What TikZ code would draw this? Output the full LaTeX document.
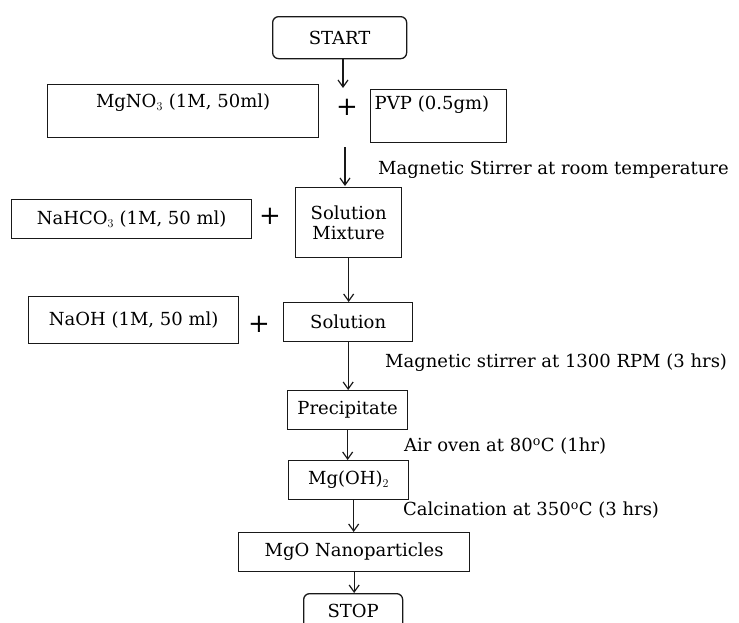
\documentclass[tikz,border=0pt]{standalone}
\usepackage{fontspec}
\setmainfont{DejaVu Serif}
\usetikzlibrary{arrows.meta}
\tikzset{
  txt/.style={font=\fontsize{18}{20}\selectfont, text=black},
  box/.style={draw=black!90, line width=1.3pt, rectangle, inner sep=0pt, anchor=north west, txt},
  rbox/.style={box, rounded corners=6pt},
  flow/.style={draw=black!90, line width=1.2pt, -{Straight Barb[length=7pt,width=10pt,line width=1.2pt]}},
  plus/.style={font=\fontsize{26}{26}\selectfont, text=black, inner sep=0pt},
  lbl/.style={txt, anchor=west, inner sep=0pt},
}
\begin{document}
\begin{tikzpicture}[x=1pt,y=-1pt]
\useasboundingbox (0,0) rectangle (739,622);
% boxes
\node[rbox, minimum width=134pt, minimum height=42pt] (start) at (272,16) {START};
\node[box, minimum width=271pt, text width=271pt, align=center, text height=23pt, text depth=30pt] (mgno) at (47,84) {MgNO$_3$ (1M, 50ml)};
\node[box, minimum width=136pt, text width=132pt, align=left, text height=20pt, text depth=33pt] (pvp) at (370,89) {\hspace*{2pt}PVP (0.5gm)};
\node[box, minimum width=240pt, minimum height=39pt] (nahco) at (11,199) {NaHCO$_3$ (1M, 50 ml)};
\node[box, minimum width=106pt, minimum height=70pt, align=center] (solmix) at (295,187) {Solution\\Mixture};
\node[box, minimum width=210pt, minimum height=47pt] (naoh) at (28,296) {NaOH (1M, 50 ml)};
\node[box, minimum width=129pt, minimum height=39pt] (sol) at (283,302) {Solution};
\node[box, minimum width=120pt, minimum height=39pt] (prec) at (287,390) {Precipitate};
\node[box, minimum width=120pt, minimum height=39pt] (mgoh) at (288,460) {Mg(OH)$_2$};
\node[box, minimum width=231pt, minimum height=39pt] (mgo) at (238,532) {MgO Nanoparticles};
\node[rbox, minimum width=99pt, text height=24pt, text depth=20pt] (stop) at (303,593) {STOP};
% plus signs
\node[plus] (p1) at (347,107) {+};
\node[plus] (p2) at (270,216) {+};
\node[plus] (p3) at (259,324) {+};
% free ends
\coordinate (c1) at (343,88);
\coordinate (c2) at (345,147);
\coordinate (c2e) at (345,186);
% connectors
\draw[flow] (start.south -| c1) -- (c1);
\draw[flow] (c2) -- (c2e);
\draw[flow] (solmix.south) -- (solmix.south |- sol.north);
\draw[flow] (sol.south) -- (sol.south |- prec.north);
\draw[flow] (prec.south) -- (prec.south |- mgoh.north);
\draw[flow] ([xshift=5pt]mgoh.south) -- ([xshift=5pt]mgoh.south |- mgo.north);
\draw[flow] (mgo.south) -- (mgo.south |- stop.north);
% labels
\node[lbl] (l1) at (378,170) {Magnetic Stirrer at room temperature};
\node[lbl] (l2) at (385,363) {Magnetic stirrer at 1300 RPM (3 hrs)};
\node[lbl] (l3) at (404,446) {Air oven at 80\textsuperscript{o}C (1hr)};
\node[lbl] (l4) at (403,510) {Calcination at 350\textsuperscript{o}C (3 hrs)};
\end{tikzpicture}
\end{document}
